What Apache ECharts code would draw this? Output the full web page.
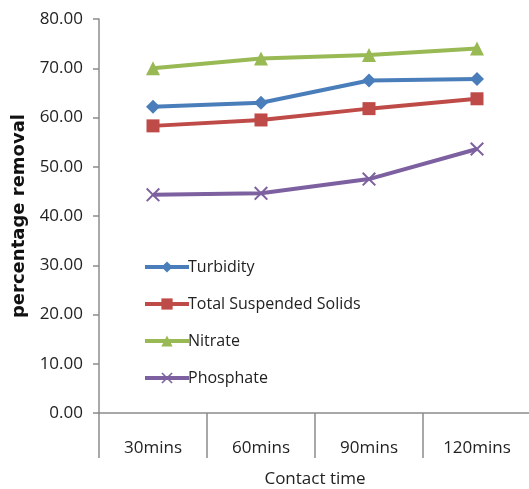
<!DOCTYPE html>
<html><head><meta charset="utf-8">
<script src="https://cdn.jsdelivr.net/npm/echarts@6/dist/echarts.min.js"></script>
<style>html,body{margin:0;padding:0;background:#fff}#c{width:529px;height:489px}</style>
</head><body><div id="c"></div>
<script>
const categories = ['30mins', '60mins', '90mins', '120mins'];
const turbidity = [62.2, 63.0, 67.5, 67.8];
const tss = [58.3, 59.5, 61.8, 63.8];
const nitrate = [70.0, 72.0, 72.7, 74.0];
const phosphate = [44.3, 44.6, 47.5, 53.6];
const yTicks = { min: 0, max: 80, interval: 10 };

const xPath = 'path://M0,1L1,0L5,4L9,0L10,1L6,5L10,9L9,10L5,6L1,10L0,9L4,5Z';
const font = 'Open Sans, Noto Sans, sans-serif';
function mk(name, data, color, symbol, size) {
  return { name, type: 'line', data, symbol, symbolSize: size,
    lineStyle: { color, width: 4 }, itemStyle: { color },
    emphasis: { disabled: true } };
}
const chart = echarts.init(document.getElementById('c'));
chart.setOption({
  animation: false,
  grid: { left: 99, top: 19, bottom: 76, width: 432, outerBoundsMode: 'none', containLabel: false },
  legend: {
    orient: 'vertical', left: 138, top: 254, itemGap: 21,
    itemWidth: 44, itemHeight: 14,
    lineStyle: { width: 4 },
    textStyle: { fontFamily: font, fontSize: 16, color: '#222', padding: [0,0,0,-6] },
    data: ['Turbidity', 'Total Suspended Solids', 'Nitrate', 'Phosphate']
  },
  xAxis: {
    type: 'category', data: categories, boundaryGap: true,
    name: 'Contact time', nameLocation: 'middle', nameGap: 58,
    nameTextStyle: { fontFamily: font, fontSize: 17, color: '#222' },
    axisLine: { lineStyle: { color: '#8c8c8c', width: 1.5 } },
    axisTick: { show: true, length: 45, lineStyle: { color: '#8c8c8c', width: 1.5 } },
    axisLabel: { margin: 27, fontFamily: font, fontSize: 17, color: '#222' }
  },
  yAxis: {
    type: 'value', min: yTicks.min, max: yTicks.max, interval: yTicks.interval,
    name: 'percentage removal', nameLocation: 'middle', nameGap: 71,
    nameTextStyle: { fontFamily: 'DejaVu Sans, sans-serif', fontSize: 18, fontWeight: 'bold', color: '#111' },
    axisLine: { show: true, lineStyle: { color: '#8c8c8c', width: 1.5 } },
    axisTick: { show: true, length: 6, lineStyle: { color: '#8c8c8c', width: 1.5 } },
    splitLine: { show: false },
    axisLabel: { margin: 16, fontFamily: font, fontSize: 17, color: '#222',
      formatter: v => v.toFixed(2) }
  },
  series: [
    mk('Turbidity', turbidity, '#4a7ebb', 'diamond', 14),
    mk('Total Suspended Solids', tss, '#be4b48', 'rect', 13),
    mk('Nitrate', nitrate, '#98b954', 'triangle', 14),
    mk('Phosphate', phosphate, '#7d60a0', xPath, 14)
  ]
});
</script></body></html>
